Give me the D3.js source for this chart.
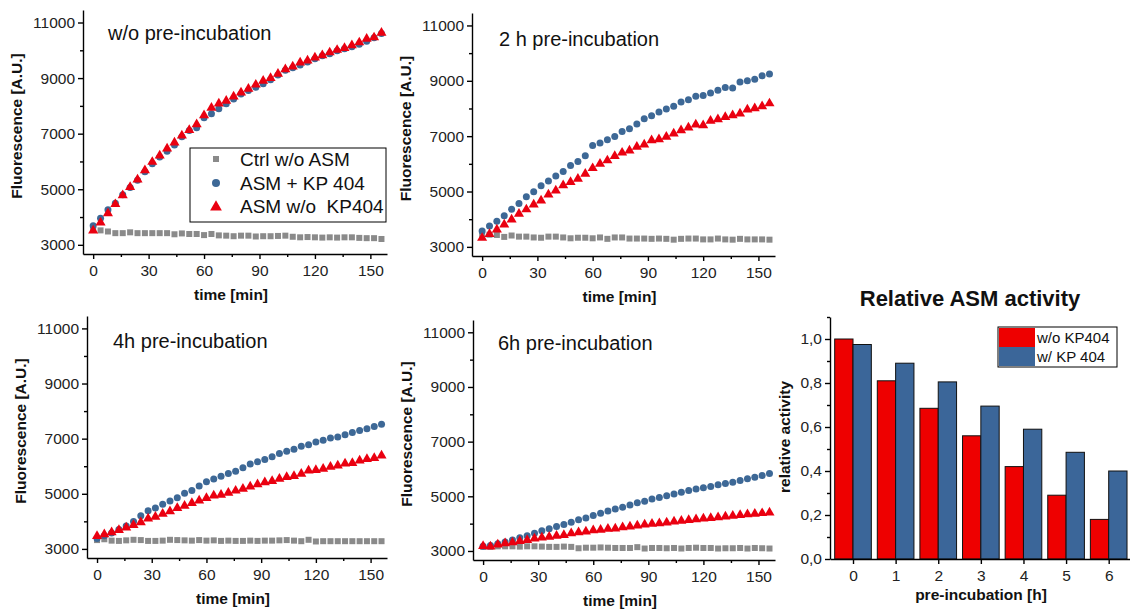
<!DOCTYPE html>
<html>
<head>
<meta charset="utf-8">
<script src="https://cdn.jsdelivr.net/npm/d3@7"></script>
<style>
  body { margin: 0; background: #fff; }
  svg { font-family: Arial, "Liberation Sans", sans-serif; }
  .tick text { font-size: 15.5px; fill: #222; }
  .axis path, .axis line { stroke: #000; stroke-width: 1.4; }
  .label { font-size: 15.5px; font-weight: bold; fill: #111; }
</style>
</head>
<body>
<script>
// time points [min]
var time = [0,4,8,12,16,20,24,28,32,36,40,44,48,52,56,60,64,68,72,76,80,84,88,92,96,100,104,108,112,116,120,124,128,132,136,140,144,148,152,156];

// w/o pre-incubation
var ctrl0 = [3550,3520,3480,3420,3420,3450,3420,3420,3420,3420,3420,3380,3410,3390,3390,3350,3390,3340,3330,3310,3330,3330,3300,3310,3310,3320,3330,3290,3270,3280,3270,3260,3270,3260,3270,3270,3250,3240,3240,3210];
var kp0 = [3690,3960,4260,4500,4800,5060,5320,5630,5920,6160,6370,6590,6890,7110,7210,7570,7720,7900,8080,8250,8430,8550,8670,8800,8940,9110,9280,9370,9470,9580,9700,9800,9880,9980,10060,10130,10220,10330,10450,10600];
var noKp0 = [3530,3820,4150,4480,4800,5100,5370,5700,6000,6230,6480,6700,6950,7150,7350,7680,7950,8100,8200,8350,8500,8630,8780,8920,9020,9170,9330,9430,9580,9650,9760,9840,9940,10030,10100,10200,10300,10430,10480,10650];

// 2 h pre-incubation
var ctrl2 = [3420,3440,3430,3360,3410,3370,3370,3340,3330,3370,3370,3340,3310,3330,3330,3310,3340,3290,3340,3340,3300,3300,3300,3290,3300,3290,3260,3290,3300,3300,3270,3270,3300,3270,3260,3290,3270,3270,3270,3260];
var kp2 = [3570,3750,3930,4120,4360,4570,4810,4990,5210,5380,5560,5720,5940,6080,6290,6660,6750,6870,6990,7170,7270,7440,7630,7740,7870,7980,8080,8230,8320,8440,8470,8560,8660,8760,8740,8960,9000,9060,9180,9250];
var noKp2 = [3340,3480,3640,3820,4000,4210,4370,4550,4690,4910,5050,5240,5360,5480,5660,5860,6020,6140,6300,6420,6500,6630,6710,6870,6900,6990,7110,7230,7330,7440,7410,7570,7630,7710,7770,7830,7980,8020,8100,8200];

// 4 h pre-incubation
var ctrl4 = [3320,3350,3300,3290,3310,3330,3320,3290,3290,3300,3330,3320,3310,3300,3320,3300,3310,3290,3300,3290,3290,3300,3290,3300,3300,3310,3320,3300,3280,3330,3270,3280,3280,3280,3280,3280,3280,3280,3280,3280];
var kp4 = [3380,3480,3580,3700,3830,3990,4200,4380,4480,4620,4740,4860,5020,5120,5280,5440,5540,5640,5740,5820,5940,6080,6160,6240,6340,6460,6540,6620,6720,6780,6880,6940,7020,7060,7140,7220,7300,7360,7440,7520];
var noKp4 = [3480,3550,3620,3700,3790,3880,3980,4120,4180,4290,4380,4500,4580,4680,4770,4860,4950,4980,5050,5130,5200,5280,5360,5430,5480,5560,5620,5660,5740,5860,5880,5920,6000,6040,6110,6130,6220,6280,6310,6400];

// 6 h pre-incubation
var ctrl6 = [3150,3150,3170,3170,3170,3160,3170,3170,3160,3150,3150,3160,3150,3100,3120,3120,3130,3120,3110,3110,3110,3140,3090,3110,3110,3100,3110,3090,3110,3120,3110,3110,3090,3100,3100,3110,3090,3110,3100,3090];
var kp6 = [3170,3200,3260,3330,3400,3480,3560,3650,3740,3810,3900,3970,4050,4140,4210,4300,4380,4460,4540,4600,4680,4760,4820,4900,4960,5020,5080,5150,5210,5270,5310,5360,5420,5470,5510,5580,5640,5700,5760,5830];
var noKp6 = [3200,3180,3250,3300,3330,3380,3420,3470,3510,3540,3570,3600,3660,3700,3730,3770,3790,3830,3840,3880,3910,3950,3980,4010,4030,4060,4090,4120,4150,4180,4200,4220,4250,4280,4300,4330,4360,4380,4400,4420];

// relative ASM activity
var preInc = [0,1,2,3,4,5,6];
var actNoKp = [1.0,0.81,0.685,0.56,0.42,0.29,0.18];
var actKp = [0.975,0.89,0.805,0.695,0.59,0.485,0.40];

var seriesNames = ["Ctrl w/o ASM", "ASM + KP 404", "ASM w/o  KP404"];
var barNames = ["w/o KP404", "w/ KP 404"];

var gray = "#8a8a8a", blue = "#3d6896", red = "#ea0010";

var svg = d3.select("body").append("svg")
  .attr("width", 1130)
  .attr("height", 614);

var panels = [
  { title: "w/o pre-incubation", ctrl: ctrl0, kp: kp0, noKp: noKp0, left: 83, right: 387, top: 10, bottom: 254, tx: 108, ty: 40 },
  { title: "2 h pre-incubation", ctrl: ctrl2, kp: kp2, noKp: noKp2, left: 472, right: 775, top: 13, bottom: 256, tx: 499, ty: 46 },
  { title: "4h pre-incubation", ctrl: ctrl4, kp: kp4, noKp: noKp4, left: 87, right: 387, top: 316, bottom: 558, tx: 113, ty: 348 },
  { title: "6h pre-incubation", ctrl: ctrl6, kp: kp6, noKp: noKp6, left: 473, right: 775, top: 320, bottom: 560, tx: 498, ty: 350 }
];

var tri = d3.symbol().type(d3.symbolTriangle).size(44);

panels.forEach(function(p) {
  var x = d3.scaleLinear().domain([-5.5, 159]).range([p.left, p.right]);
  var y = d3.scaleLinear().domain([2670, 11450]).range([p.bottom, p.top]);
  var g = svg.append("g");

  // minor ticks
  g.append("g").attr("class", "axis")
    .attr("transform", `translate(${p.left},0)`)
    .call(d3.axisLeft(y).tickValues([4000,6000,8000,10000]).tickSize(3).tickFormat(""))
    .select(".domain").remove();
  g.append("g").attr("class", "axis")
    .attr("transform", `translate(0,${p.bottom})`)
    .call(d3.axisBottom(x).tickValues([15,45,75,105,135]).tickSize(3).tickFormat(""))
    .select(".domain").remove();

  // major axes
  g.append("g").attr("class", "axis")
    .attr("transform", `translate(${p.left},0)`)
    .call(d3.axisLeft(y).tickValues([3000,5000,7000,9000,11000]).tickSize(5).tickSizeOuter(0).tickPadding(3).tickFormat(d3.format("d")));
  g.append("g").attr("class", "axis")
    .attr("transform", `translate(0,${p.bottom})`)
    .call(d3.axisBottom(x).tickValues([0,30,60,90,120,150]).tickSize(5).tickSizeOuter(0).tickPadding(6));

  // data points
  g.selectAll(".ctrl").data(time).enter().append("rect")
    .attr("x", (d, i) => x(d) - 3)
    .attr("y", (d, i) => y(p.ctrl[i]) - 3)
    .attr("width", 6).attr("height", 6)
    .attr("fill", gray);
  g.selectAll(".kp").data(time).enter().append("circle")
    .attr("cx", d => x(d))
    .attr("cy", (d, i) => y(p.kp[i]))
    .attr("r", 3.5)
    .attr("fill", blue);
  g.selectAll(".nokp").data(time).enter().append("path")
    .attr("d", tri)
    .attr("transform", (d, i) => `translate(${x(d)},${y(p.noKp[i]) + 0.5})`)
    .attr("fill", red);

  g.append("text")
    .attr("x", p.tx).attr("y", p.ty)
    .attr("font-size", "20px").attr("fill", "#111")
    .text(p.title);

  g.append("text")
    .attr("class", "label")
    .attr("text-anchor", "middle")
    .attr("transform", `translate(${p.left - 61},${(p.top + p.bottom) / 2 - 6}) rotate(-90)`)
    .text("Fluorescence [A.U.]");

  g.append("text")
    .attr("class", "label")
    .attr("text-anchor", "middle")
    .attr("x", (p.left + p.right) / 2 - 4)
    .attr("y", p.bottom + 46)
    .text("time [min]");
});

// legend in first panel
var leg = svg.append("g");
leg.append("rect")
  .attr("x", 190).attr("y", 148).attr("width", 196).attr("height", 74)
  .attr("fill", "#fff").attr("stroke", "#000").attr("stroke-width", 1);
var legY = [159, 183, 206];
leg.append("rect").attr("x", 213).attr("y", legY[0] - 3).attr("width", 6).attr("height", 6).attr("fill", gray);
leg.append("circle").attr("cx", 216).attr("cy", legY[1]).attr("r", 4).attr("fill", blue);
leg.append("path").attr("d", d3.symbol().type(d3.symbolTriangle).size(60)).attr("transform", `translate(216,${legY[2] + 1})`).attr("fill", red);
seriesNames.forEach(function(n, i) {
  leg.append("text")
    .attr("x", 240).attr("y", legY[i] + 7)
    .attr("font-size", "19px").attr("fill", "#111")
    .attr("xml:space", "preserve")
    .style("white-space", "pre")
    .text(n);
});

// bar chart
var bx = d3.scaleLinear().domain([-0.54, 6.5]).range([830, 1130]);
var by = d3.scaleLinear().domain([0, 1.1]).range([559, 317]);
var bw = 0.43;
var bg = svg.append("g");

bg.selectAll(".bred").data(preInc).enter().append("rect")
  .attr("x", d => bx(d - bw))
  .attr("y", (d, i) => by(actNoKp[i]))
  .attr("width", bx(bw) - bx(0))
  .attr("height", (d, i) => by(0) - by(actNoKp[i]))
  .attr("fill", "#ee0000").attr("stroke", "#111").attr("stroke-width", 1);
bg.selectAll(".bblue").data(preInc).enter().append("rect")
  .attr("x", d => bx(d))
  .attr("y", (d, i) => by(actKp[i]))
  .attr("width", bx(bw) - bx(0))
  .attr("height", (d, i) => by(0) - by(actKp[i]))
  .attr("fill", "#3b6699").attr("stroke", "#111").attr("stroke-width", 1);

bg.append("g").attr("class", "axis")
  .attr("transform", "translate(830,0)")
  .call(d3.axisLeft(by).tickValues([0.1,0.3,0.5,0.7,0.9,1.1]).tickSize(3).tickFormat(""))
  .select(".domain").remove();
bg.append("g").attr("class", "axis")
  .attr("transform", "translate(830,0)")
  .call(d3.axisLeft(by).tickValues([0,0.2,0.4,0.6,0.8,1.0]).tickSize(5).tickSizeOuter(0).tickPadding(3)
    .tickFormat(d => d3.format(".1f")(d).replace(".", ",")));
bg.append("g").attr("class", "axis")
  .attr("transform", "translate(0,559)")
  .call(d3.axisBottom(bx).tickValues(preInc).tickSize(5).tickSizeOuter(0).tickPadding(6).tickFormat(d3.format("d")));

bg.append("text")
  .attr("x", 970).attr("y", 306)
  .attr("text-anchor", "middle")
  .attr("font-size", "22px").attr("font-weight", "bold").attr("fill", "#111")
  .text("Relative ASM activity");
bg.append("text")
  .attr("class", "label")
  .attr("text-anchor", "middle")
  .attr("transform", "translate(790,437) rotate(-90)")
  .text("relative activity");
bg.append("text")
  .attr("class", "label")
  .attr("text-anchor", "middle")
  .attr("x", 981).attr("y", 600)
  .text("pre-incubation [h]");

// bar legend
var bl = bg.append("g");
bl.append("rect").attr("x", 998).attr("y", 327).attr("width", 119).attr("height", 40)
  .attr("fill", "#fff").attr("stroke", "#000").attr("stroke-width", 1);
bl.append("rect").attr("x", 999).attr("y", 328).attr("width", 36).attr("height", 19).attr("fill", "#ee0000");
bl.append("rect").attr("x", 999).attr("y", 347).attr("width", 36).attr("height", 19).attr("fill", "#3b6699");
barNames.forEach(function(n, i) {
  bl.append("text")
    .attr("x", 1037).attr("y", 343 + i * 19)
    .attr("font-size", "15px").attr("fill", "#111")
    .text(n);
});
</script>
</body>
</html>
